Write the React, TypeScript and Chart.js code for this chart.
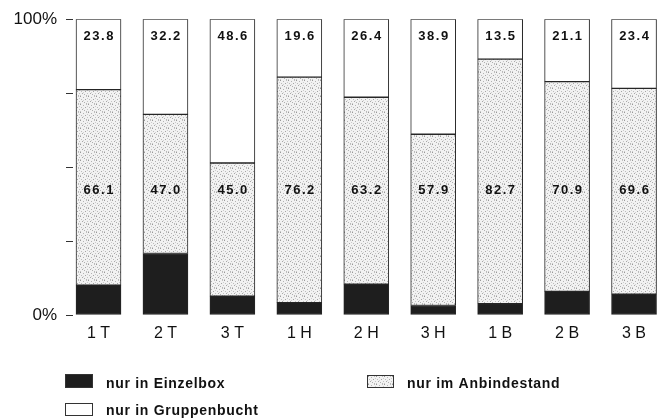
import { useEffect, useRef } from 'react';
import { Chart, registerables } from 'chart.js';

Chart.register(...registerables);

const categories = ['1 T', '2 T', '3 T', '1 H', '2 H', '3 H', '1 B', '2 B', '3 B'];
const einzelbox = [10.1, 20.8, 6.4, 4.2, 10.4, 3.2, 3.8, 8.0, 7.0];
const anbindestand = [66.1, 47.0, 45.0, 76.2, 63.2, 57.9, 82.7, 70.9, 69.6];
const gruppenbucht = [23.8, 32.2, 48.6, 19.6, 26.4, 38.9, 13.5, 21.1, 23.4];
const seriesNames = ['nur in Einzelbox', 'nur im Anbindestand', 'nur in Gruppenbucht'];
const yTicks = [0, 25, 50, 75, 100];
const yTickLabels: Record<number, string> = { 0: '0%', 100: '100%' };

const FONT = '"Liberation Sans", Arial, sans-serif';

// fixed stipple dot layout for the pattern tile (pattern style, not data)
const STIPPLE_DOTS: [number, number, string][] = [
  [0, 0, '#9a9a9a'], [3, 1, '#b4b4b4'], [6, 0, '#c0c0c0'], [1, 3, '#bcbcbc'],
  [5, 3, '#a4a4a4'], [2, 5, '#a8a8a8'], [7, 5, '#c4c4c4'], [4, 6, '#b0b0b0'],
  [0, 7, '#c8c8c8'], [6, 7, '#b8b8b8'], [3, 4, '#d0d0d0'], [7, 2, '#cccccc'],
];

function makeStipple(): CanvasPattern | string {
  const c = document.createElement('canvas');
  c.width = 8;
  c.height = 8;
  const g = c.getContext('2d');
  if (!g) return '#e6e6e6';
  g.fillStyle = '#f2f2f2';
  g.fillRect(0, 0, 8, 8);
  STIPPLE_DOTS.forEach(([x, y, col]) => {
    g.fillStyle = col;
    g.fillRect(x, y, 1, 1);
  });
  const p = g.createPattern(c, 'repeat');
  return p || '#e6e6e6';
}

const valueLabels = {
  id: 'valueLabels',
  afterDatasetsDraw(chart: any) {
    const ctx = chart.ctx as CanvasRenderingContext2D;
    const ys = chart.scales.y;
    ctx.save();
    ctx.font = `bold 13px ${FONT}`;
    (ctx as any).letterSpacing = '1.5px';
    ctx.fillStyle = '#111';
    ctx.textAlign = 'center';
    ctx.textBaseline = 'middle';
    const spots: [number, number][] = [
      [1, 42],
      [2, 94.2],
    ];
    spots.forEach(([di, v]) => {
      const meta = chart.getDatasetMeta(di);
      meta.data.forEach((el: any, i: number) => {
        const val = chart.data.datasets[di].data[i].y as number;
        ctx.fillText(val.toFixed(1), el.x + 0.75, ys.getPixelForValue(v));
      });
    });
    ctx.restore();
  },
};

const customLegend = {
  id: 'customLegend',
  afterDraw(chart: any) {
    const ctx = chart.ctx as CanvasRenderingContext2D;
    const items = [
      { ds: 0, bx: 65, by: 374, bw: 28, bh: 14, tx: 106, ty: 384 },
      { ds: 1, bx: 367, by: 375, bw: 27, bh: 13, tx: 407, ty: 384 },
      { ds: 2, bx: 65, by: 403, bw: 28, bh: 13, tx: 106, ty: 411 },
    ];
    ctx.save();
    items.forEach((it) => {
      const ds = chart.data.datasets[it.ds];
      ctx.fillStyle = ds.backgroundColor;
      ctx.fillRect(it.bx, it.by, it.bw, it.bh);
      ctx.strokeStyle = '#333';
      ctx.lineWidth = 1;
      ctx.strokeRect(it.bx + 0.5, it.by + 0.5, it.bw - 1, it.bh - 1);
      ctx.font = `bold 14px ${FONT}`;
      (ctx as any).letterSpacing = '0.7px';
      ctx.fillStyle = '#111';
      ctx.textAlign = 'left';
      ctx.textBaseline = 'middle';
      ctx.fillText(ds.label, it.tx, it.ty);
    });
    ctx.restore();
  },
};

export default function App() {
  const ref = useRef<HTMLCanvasElement | null>(null);

  useEffect(() => {
    if (!ref.current) return;
    const stipple = makeStipple();
    const mk = (vals: number[]) => vals.map((y, i) => ({ x: i, y }));
    const common = {
      borderColor: '#262626',
      borderWidth: 1,
      borderSkipped: false,
      barThickness: 45,
    };
    const chart = new Chart(ref.current, {
      type: 'bar',
      data: {
        datasets: [
          { label: seriesNames[0], data: mk(einzelbox), backgroundColor: '#1e1e1e', ...common },
          { label: seriesNames[1], data: mk(anbindestand), backgroundColor: stipple as any, ...common },
          { label: seriesNames[2], data: mk(gruppenbucht), backgroundColor: '#ffffff', ...common },
        ] as any,
      },
      options: {
        animation: false,
        responsive: false,
        maintainAspectRatio: false,
        layout: { padding: { left: 0, right: 3, top: 18, bottom: 0 } },
        plugins: {
          legend: { display: false },
          tooltip: { enabled: false },
        },
        scales: {
          x: {
            type: 'linear',
            stacked: true,
            offset: false,
            min: -0.381,
            max: 8.373,
            grid: { display: false, drawTicks: false, offset: false },
            border: { display: false },
            afterBuildTicks: (scale: any) => {
              scale.ticks = categories.map((_, i) => ({ value: i }));
            },
            afterFit: (scale: any) => {
              scale.height = 104;
            },
            ticks: {
              autoSkip: false,
              maxRotation: 0,
              padding: 9,
              color: '#111',
              font: { family: FONT, size: 16 },
              callback: (v: any) => categories[Math.round(Number(v))] ?? '',
            },
          },
          y: {
            stacked: true,
            min: 0,
            max: 100,
            grid: {
              drawOnChartArea: false,
              drawTicks: true,
              tickLength: 7,
              color: '#333',
              lineWidth: 1,
            },
            border: { display: false },
            afterBuildTicks: (scale: any) => {
              scale.ticks = yTicks.map((v) => ({ value: v }));
            },
            afterFit: (scale: any) => {
              scale.width = 73;
            },
            ticks: {
              padding: 9,
              color: '#111',
              font: { family: FONT, size: 17 },
              callback: (v: any) => yTickLabels[Number(v)] ?? '',
            },
          },
        },
      } as any,
      plugins: [valueLabels, customLegend],
    });
    return () => chart.destroy();
  }, []);

  return (
    <div style={{ position: 'fixed', left: 0, top: 0, width: 662, height: 419, background: '#fff' }}>
      <canvas ref={ref} width={662} height={419} style={{ display: 'block', width: 662, height: 419 }} />
    </div>
  );
}
